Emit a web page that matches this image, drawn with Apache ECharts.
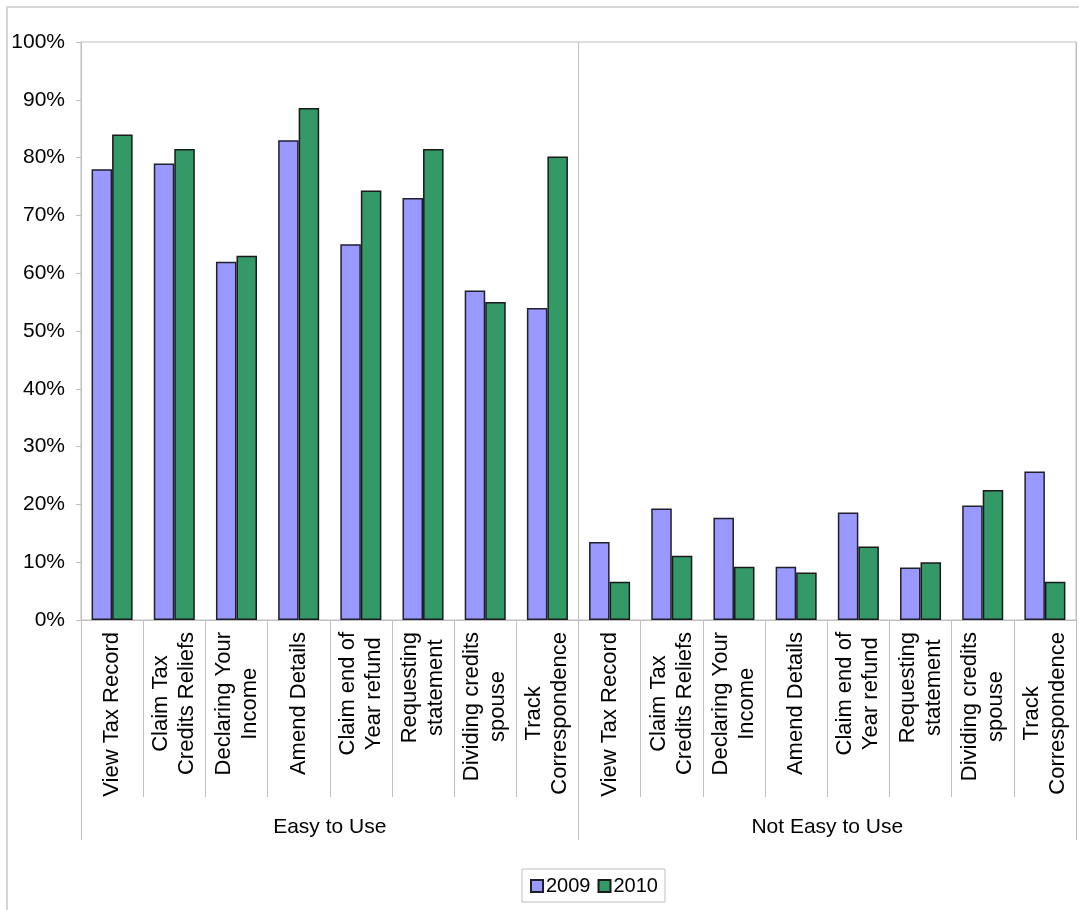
<!DOCTYPE html>
<html>
<head>
<meta charset="utf-8">
<title>Ease of use 2009 vs 2010</title>
<script src="https://cdn.jsdelivr.net/npm/echarts@6/dist/echarts.min.js"></script>
<style>
  html, body { margin: 0; padding: 0; background: #ffffff; }
  #chart { width: 1079px; height: 910px; }
</style>
</head>
<body>
<div id="chart"></div>
<script>
// Services rated in each group (same list under both headings)
const services = [
  'View Tax Record',
  'Claim Tax\nCredits Reliefs',
  'Declaring Your\nIncome',
  'Amend Details',
  'Claim end of\nYear refund',
  'Requesting\nstatement',
  'Dividing credits\nspouse',
  'Track\nCorrespondence'
];
const groups = ['Easy to Use', 'Not Easy to Use'];
const categories = services.concat(services);

// Share of respondents (%), first eight = Easy to Use, last eight = Not Easy to Use
const values2009 = [78, 79, 62, 83, 65, 73, 57, 54, 13.5, 19.3, 17.7, 9.2, 18.6, 9.1, 19.8, 25.7];
const values2010 = [84, 81.5, 63, 88.6, 74.3, 81.5, 55, 80.2, 6.6, 11.1, 9.2, 8.2, 12.7, 10, 22.5, 6.6];

const yTicks = { min: 0, max: 100, interval: 10 };

const FONT = '"Liberation Sans", Arial, sans-serif';
const GREY = '#bfbfbf';
const CAT_FONT_SIZE = 22;

const chart = echarts.init(document.getElementById('chart'), null, { renderer: 'canvas' });

chart.setOption({
  backgroundColor: '#ffffff',
  animation: false,
  textStyle: { fontFamily: FONT, color: '#000' },
  graphic: [{
    type: 'rect',
    shape: { x: 7, y: 7, width: 1100, height: 1000 },
    style: { fill: 'none', stroke: '#d6d6d6', lineWidth: 2 },
    silent: true,
    z: -1
  }],
  grid: {
    left: 81, right: 3, top: 42, bottom: 290,
    show: true, borderColor: GREY, borderWidth: 1, backgroundColor: 'transparent'
  },
  legend: {
    left: 522, top: 869,
    padding: [7, 7, 6, 8],
    borderColor: GREY, borderWidth: 1,
    itemWidth: 12, itemHeight: 12, itemGap: 7,
    icon: 'rect',
    textStyle: { fontFamily: FONT, fontSize: 20, color: '#000', padding: [0, 0, 0, -2] },
    data: ['2009', '2010']
  },
  xAxis: [{
    type: 'category',
    data: categories,
    position: 'bottom',
    axisLine: { show: true, lineStyle: { color: GREY, width: 1 } },
    axisTick: { show: true, interval: 0, length: 177, lineStyle: { color: GREY } },
    axisLabel: {
      interval: 0,
      rotate: 90,
      margin: 12,
      fontFamily: FONT,
      fontSize: CAT_FONT_SIZE,
      color: '#000',
      // each wrapped line is centred within the label block
      formatter: function (v) {
        return v.split('\n').map(function (l) { return '{c|' + l + '}'; }).join('\n');
      },
      rich: {
        c: { align: 'center', fontFamily: FONT, fontSize: CAT_FONT_SIZE, lineHeight: 26, color: '#000' }
      }
    },
    splitLine: { show: false }
  }, {
    type: 'category',
    data: groups,
    position: 'bottom',
    axisLine: { show: false },
    axisTick: { show: true, interval: 0, length: 220, lineStyle: { color: GREY } },
    axisLabel: { interval: 0, margin: 197, fontFamily: FONT, fontSize: 21, color: '#000' },
    splitLine: { show: true, interval: 0, lineStyle: { color: GREY, width: 1 } }
  }],
  yAxis: {
    type: 'value',
    min: yTicks.min, max: yTicks.max, interval: yTicks.interval,
    axisLine: { show: true, lineStyle: { color: GREY } },
    axisTick: { show: true, length: 5, lineStyle: { color: GREY } },
    axisLabel: { formatter: '{value}%', margin: 16, fontFamily: FONT, fontSize: 21, color: '#000' },
    splitLine: { show: false }
  },
  series: [{
    name: '2009',
    type: 'bar',
    xAxisIndex: 0,
    data: values2009,
    barGap: '0%',
    barCategoryGap: '34%',
    itemStyle: { color: '#9999ff', borderColor: '#1f1f2e', borderWidth: 1.5 }
  }, {
    name: '2010',
    type: 'bar',
    xAxisIndex: 0,
    data: values2010,
    itemStyle: { color: '#339966', borderColor: '#1a1a1a', borderWidth: 1.5 }
  }]
});
</script>
</body>
</html>
